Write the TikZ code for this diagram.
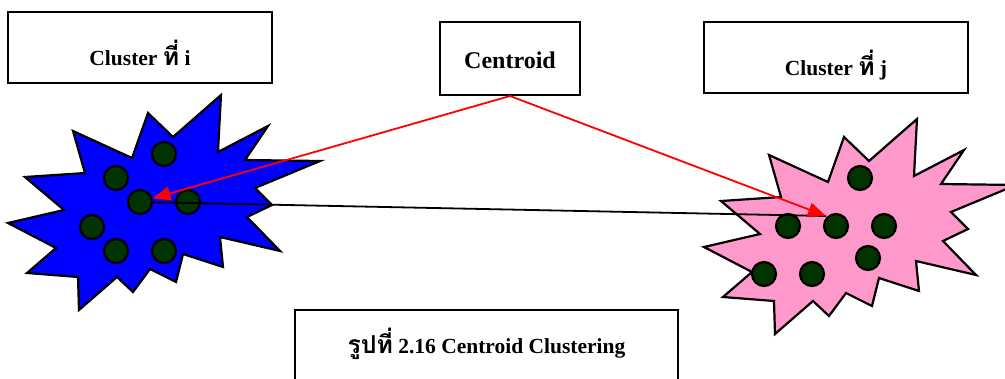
\documentclass[tikz,border=0pt]{standalone}
\usepackage{fontspec}
\setmainfont{Liberation Serif}
\newfontfamily\thaifont[Script=Thai,Scale=1.15]{Loma}
\usetikzlibrary{arrows.meta}

\definecolor{dkgreen}{RGB}{0,51,0}
\definecolor{burstpink}{RGB}{255,153,204}

\tikzset{
  box/.style={draw, line width=2pt, minimum width=264pt, minimum height=71pt,
    text height=35pt, text depth=0pt, font=\bfseries\fontsize{21.5}{26}\selectfont},
  dot/.style={circle, draw, line width=2.2pt, fill=dkgreen, minimum size=24pt, inner sep=0pt},
  link/.style={line width=1.8pt},
  burst/.pic={
    \draw[pic actions] (221,95) -- (218,152) -- (268,126) -- (245,160) -- (320,161)
      -- (255,188) -- (272,205) -- (247,217) -- (280,251) -- (220,237) -- (223,267)
      -- (183,254) -- (176,282) -- (150,269) -- (133,292) -- (117,277) -- (79,310)
      -- (78,277) -- (27,273) -- (56,248) -- (8,223) -- (64,210) -- (25,177)
      -- (85,173) -- (73,131) -- (132,158) -- (148,113) -- (173,137) -- cycle;
  }
}

\begin{document}
\begin{tikzpicture}[x=1pt,y=-1pt]
\useasboundingbox (0,0) rectangle (1005,378);
\clip (0,0) rectangle (1005,378);

% the two clusters
\pic[fill=blue, line width=2.2pt] at (0,0) {burst};
\pic[fill=burstpink, line width=2.2pt] at (696,24) {burst};

\foreach \p [count=\k] in {(164,154),(116,178),(140,202),(188,202),(92,227),(116,251),(164,251)}
  \node[dot] (ci\k) at \p {};
\foreach \p [count=\k] in {(860,178),(788,226),(836,226),(884,226),(868,258),(764,274),(812,274)}
  \node[dot] (cj\k) at \p {};

% labels
\node[box] (clui) at (140,47.5) {Cluster {\thaifont ที่} i};
\node[box] (cluj) at (836,57.5) {Cluster {\thaifont ที่} j};
\node[box, minimum width=140pt, minimum height=73pt, text height=19pt,
  font=\bfseries\fontsize{24}{28}\selectfont] (cen) at (510,58.5) {Centroid};
\node[box, minimum width=383pt, minimum height=80pt, text height=6pt] (cap) at (486.5,350)
  {{\thaifont รูปที่} 2.16 Centroid Clustering};

\coordinate (tipj) at (826,216);

\draw[link] (ci3) -- (tipj);
\draw[link, red, -{Triangle[length=18pt,width=14pt]}] (cen.south) -- (ci3);
\draw[link, red, -{Triangle[length=18pt,width=14pt]}] (cen.south) -- (tipj);

\end{tikzpicture}
\end{document}
